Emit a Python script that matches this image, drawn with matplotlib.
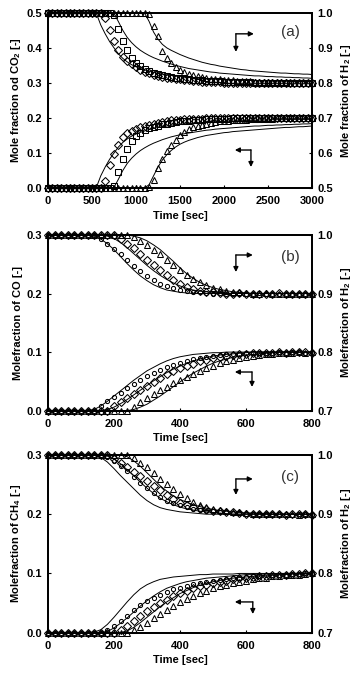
import numpy as np
import matplotlib
matplotlib.use('Agg')
import matplotlib.pyplot as plt

plt.rcParams['font.family'] = ['Liberation Sans', 'DejaVu Sans']
plt.rcParams['font.weight'] = 'bold'
plt.rcParams['mathtext.fontset'] = 'custom'
plt.rcParams['mathtext.rm'] = 'Liberation Sans:bold'
plt.rcParams['mathtext.default'] = 'rm'

# ---------------- panel (a): CO2 / H2, 0-3000 s, every 50 s ----------------
time_a = np.arange(0, 3001, 50)

co2_dia = [0, 0, 0, 0, 0, 0, 0, 0, 0, 0,
           0, 0, 0, 0.02, 0.065, 0.097, 0.124, 0.145, 0.156, 0.163,
           0.169, 0.174, 0.178, 0.181, 0.184, 0.187, 0.189, 0.191, 0.193, 0.194,
           0.195, 0.196, 0.197, 0.197, 0.198, 0.198, 0.199, 0.199, 0.2, 0.199,
           0.2, 0.201, 0.2, 0.199, 0.2, 0.201, 0.2, 0.2, 0.201, 0.2,
           0.2, 0.201, 0.2, 0.2, 0.201, 0.2, 0.199, 0.2, 0.201, 0.2,
           0.201]
co2_sq = [0, 0, 0, 0, 0, 0, 0, 0, 0, 0,
          0, 0, 0, 0, 0, 0.005, 0.045, 0.082, 0.11, 0.133,
          0.148, 0.158, 0.165, 0.17, 0.175, 0.178, 0.182, 0.184, 0.187, 0.188,
          0.19, 0.191, 0.192, 0.193, 0.194, 0.195, 0.196, 0.196, 0.197, 0.197,
          0.198, 0.198, 0.199, 0.199, 0.2, 0.199, 0.2, 0.2, 0.201, 0.2,
          0.2, 0.2, 0.201, 0.2, 0.2, 0.199, 0.2, 0.201, 0.2, 0.2,
          0.2]
co2_tri = [0, 0, 0, 0, 0, 0, 0, 0, 0, 0,
           0, 0, 0, 0, 0, 0, 0, 0, 0, 0,
           0, 0, 0, 0.003, 0.022, 0.057, 0.082, 0.105, 0.123, 0.138,
           0.151, 0.161, 0.168, 0.173, 0.177, 0.181, 0.184, 0.186, 0.188, 0.19,
           0.191, 0.192, 0.193, 0.194, 0.195, 0.195, 0.196, 0.196, 0.197, 0.197,
           0.198, 0.198, 0.199, 0.199, 0.2, 0.199, 0.2, 0.2, 0.2, 0.201,
           0.2]
co2_mod1 = [0, 0, 0, 0, 0, 0, 0, 0, 0, 0,
            0, 0.002, 0.035, 0.06, 0.082, 0.1, 0.117, 0.13, 0.14, 0.148,
            0.154, 0.159, 0.163, 0.167, 0.17, 0.173, 0.175, 0.177, 0.179, 0.181,
            0.182, 0.183, 0.184, 0.185, 0.186, 0.187, 0.188, 0.189, 0.189, 0.19,
            0.19, 0.191, 0.191, 0.192, 0.192, 0.193, 0.193, 0.193, 0.194, 0.194,
            0.194, 0.195, 0.195, 0.195, 0.195, 0.196, 0.196, 0.196, 0.196, 0.196,
            0.196]
co2_mod2 = [0, 0, 0, 0, 0, 0, 0, 0, 0, 0,
            0, 0, 0, 0, 0, 0.002, 0.025, 0.05, 0.07, 0.085,
            0.097, 0.107, 0.115, 0.122, 0.128, 0.133, 0.138, 0.142, 0.146, 0.149,
            0.152, 0.155, 0.157, 0.159, 0.161, 0.163, 0.165, 0.166, 0.168, 0.169,
            0.17, 0.171, 0.172, 0.173, 0.174, 0.175, 0.176, 0.177, 0.177, 0.178,
            0.179, 0.179, 0.18, 0.18, 0.181, 0.181, 0.182, 0.182, 0.183, 0.183,
            0.184]
co2_mod3 = [0, 0, 0, 0, 0, 0, 0, 0, 0, 0,
            0, 0, 0, 0, 0, 0, 0, 0, 0, 0,
            0, 0, 0, 0.01, 0.035, 0.06, 0.08, 0.095, 0.107, 0.117,
            0.125, 0.131, 0.136, 0.14, 0.144, 0.147, 0.15, 0.152, 0.154, 0.156,
            0.158, 0.159, 0.161, 0.162, 0.163, 0.164, 0.165, 0.166, 0.167, 0.168,
            0.169, 0.17, 0.171, 0.172, 0.173, 0.173, 0.174, 0.175, 0.175, 0.176,
            0.177]

h2a_dia = [1, 1, 1, 1, 1, 1, 1, 1, 1, 1,
           1, 1, 1, 0.985, 0.95, 0.92, 0.895, 0.873, 0.862, 0.853,
           0.845, 0.838, 0.832, 0.827, 0.823, 0.82, 0.817, 0.815, 0.813, 0.811,
           0.81, 0.808, 0.807, 0.806, 0.805, 0.804, 0.803, 0.803, 0.802, 0.802,
           0.801, 0.801, 0.8, 0.801, 0.8, 0.799, 0.8, 0.8, 0.799, 0.8,
           0.8, 0.799, 0.8, 0.8, 0.799, 0.8, 0.8, 0.799, 0.8, 0.8,
           0.799]
h2a_sq = [1, 1, 1, 1, 1, 1, 1, 1, 1, 1,
          1, 1, 1, 1, 1, 0.995, 0.955, 0.92, 0.893, 0.872,
          0.857, 0.847, 0.84, 0.834, 0.829, 0.825, 0.822, 0.819, 0.817, 0.815,
          0.813, 0.812, 0.81, 0.809, 0.808, 0.807, 0.806, 0.806, 0.805, 0.805,
          0.804, 0.804, 0.803, 0.803, 0.802, 0.802, 0.802, 0.801, 0.801, 0.801,
          0.801, 0.8, 0.801, 0.8, 0.8, 0.8, 0.801, 0.8, 0.8, 0.799,
          0.8]
h2a_tri = [1, 1, 1, 1, 1, 1, 1, 1, 1, 1,
           1, 1, 1, 1, 1, 1, 1, 1, 1, 1,
           1, 1, 1, 0.998, 0.962, 0.935, 0.892, 0.872, 0.857, 0.846,
           0.837, 0.831, 0.826, 0.822, 0.819, 0.816, 0.814, 0.812, 0.811, 0.81,
           0.809, 0.808, 0.807, 0.806, 0.806, 0.805, 0.805, 0.804, 0.804, 0.803,
           0.803, 0.803, 0.802, 0.802, 0.802, 0.801, 0.801, 0.801, 0.8, 0.801,
           0.8]
h2a_mod1 = [1, 1, 1, 1, 1, 1, 1, 1, 1, 1,
            1, 0.998, 0.965, 0.94, 0.918, 0.9, 0.883, 0.87, 0.86, 0.852,
            0.846, 0.841, 0.837, 0.833, 0.83, 0.827, 0.825, 0.823, 0.821, 0.82,
            0.818, 0.817, 0.816, 0.815, 0.814, 0.813, 0.812, 0.811, 0.811, 0.81,
            0.81, 0.809, 0.809, 0.808, 0.808, 0.807, 0.807, 0.807, 0.806, 0.806,
            0.806, 0.805, 0.805, 0.805, 0.805, 0.804, 0.804, 0.804, 0.804, 0.804,
            0.804]
h2a_mod2 = [1, 1, 1, 1, 1, 1, 1, 1, 1, 1,
            1, 1, 1, 1, 1, 0.998, 0.975, 0.95, 0.93, 0.915,
            0.903, 0.893, 0.885, 0.878, 0.872, 0.867, 0.862, 0.858, 0.854, 0.85,
            0.847, 0.844, 0.841, 0.839, 0.837, 0.835, 0.833, 0.831, 0.83, 0.828,
            0.827, 0.826, 0.825, 0.824, 0.823, 0.822, 0.821, 0.82, 0.82, 0.819,
            0.818, 0.818, 0.817, 0.817, 0.816, 0.816, 0.815, 0.815, 0.814, 0.814,
            0.813]
h2a_mod3 = [1, 1, 1, 1, 1, 1, 1, 1, 1, 1,
            1, 1, 1, 1, 1, 1, 1, 1, 1, 1,
            1, 1, 0.998, 0.975, 0.945, 0.925, 0.91, 0.9, 0.893, 0.887,
            0.881, 0.876, 0.871, 0.867, 0.863, 0.859, 0.856, 0.853, 0.851, 0.848,
            0.846, 0.844, 0.842, 0.84, 0.838, 0.837, 0.835, 0.834, 0.833, 0.832,
            0.831, 0.83, 0.829, 0.828, 0.828, 0.827, 0.826, 0.826, 0.825, 0.825,
            0.824]

# ---------------- panel (b): CO / H2, 0-800 s, every 20 s ----------------
time_bc = np.arange(0, 801, 20)

co_o = [0, 0, 0, 0, 0, 0, 0, 0, 0.008, 0.016,
        0.023, 0.03, 0.038, 0.046, 0.053, 0.06, 0.065, 0.07, 0.074, 0.078,
        0.082, 0.085, 0.088, 0.09, 0.092, 0.094, 0.095, 0.096, 0.097, 0.097,
        0.098, 0.098, 0.099, 0.098, 0.099, 0.1, 0.099, 0.1, 0.1, 0.099,
        0.1]
co_dia = [0, 0, 0, 0, 0, 0, 0, 0, 0, 0,
          0.008, 0.015, 0.022, 0.029, 0.035, 0.042, 0.049, 0.056, 0.062, 0.067,
          0.072, 0.076, 0.08, 0.084, 0.087, 0.09, 0.092, 0.094, 0.095, 0.096,
          0.097, 0.098, 0.098, 0.099, 0.099, 0.1, 0.099, 0.1, 0.1, 0.1,
          0.099]
co_tri = [0, 0, 0, 0, 0, 0, 0, 0, 0, 0,
          0, 0, 0, 0.007, 0.015, 0.022, 0.029, 0.035, 0.041, 0.047,
          0.052, 0.058, 0.063, 0.068, 0.073, 0.077, 0.081, 0.084, 0.087, 0.09,
          0.092, 0.094, 0.095, 0.096, 0.097, 0.098, 0.099, 0.099, 0.1, 0.099,
          0.1]
co_mod1 = [0, 0, 0, 0, 0, 0, 0, 0.002, 0.008, 0.016,
           0.025, 0.034, 0.043, 0.052, 0.06, 0.068, 0.074, 0.08, 0.085, 0.089,
           0.092, 0.094, 0.096, 0.097, 0.098, 0.099, 0.099, 0.1, 0.1, 0.1,
           0.1, 0.1, 0.1, 0.1, 0.1, 0.1, 0.1, 0.1, 0.1, 0.1,
           0.1]
co_mod2 = [0, 0, 0, 0, 0, 0, 0, 0, 0, 0.002,
           0.006, 0.012, 0.019, 0.027, 0.035, 0.043, 0.051, 0.058, 0.065, 0.071,
           0.076, 0.081, 0.085, 0.088, 0.091, 0.093, 0.095, 0.096, 0.097, 0.098,
           0.099, 0.1, 0.1, 0.1, 0.1, 0.1, 0.1, 0.1, 0.1, 0.1,
           0.1]
co_mod3 = [0, 0, 0, 0, 0, 0, 0, 0, 0, 0,
           0, 0, 0, 0.002, 0.006, 0.011, 0.018, 0.025, 0.033, 0.041,
           0.049, 0.057, 0.064, 0.07, 0.076, 0.081, 0.085, 0.088, 0.091, 0.093,
           0.095, 0.096, 0.097, 0.098, 0.099, 0.1, 0.1, 0.1, 0.1, 0.1,
           0.1]

h2b_o = [1, 1, 1, 1, 1, 1, 1, 1, 0.993, 0.985,
         0.976, 0.967, 0.957, 0.947, 0.938, 0.93, 0.923, 0.917, 0.913, 0.909,
         0.906, 0.904, 0.903, 0.902, 0.901, 0.9, 0.901, 0.9, 0.9, 0.899,
         0.9, 0.9, 0.901, 0.9, 0.899, 0.9, 0.9, 0.9, 0.899, 0.9,
         0.9]
h2b_dia = [1, 1, 1, 1, 1, 1, 1, 1, 1, 1,
           1, 0.993, 0.985, 0.977, 0.968, 0.958, 0.949, 0.94, 0.931, 0.923,
           0.916, 0.911, 0.907, 0.905, 0.903, 0.902, 0.901, 0.9, 0.9, 0.901,
           0.9, 0.9, 0.899, 0.9, 0.9, 0.901, 0.9, 0.9, 0.899, 0.9,
           0.9]
h2b_tri = [1, 1, 1, 1, 1, 1, 1, 1, 1, 1,
           1, 1, 1, 0.997, 0.99, 0.983, 0.975, 0.967, 0.958, 0.949,
           0.94, 0.932, 0.925, 0.919, 0.914, 0.91, 0.907, 0.905, 0.903, 0.902,
           0.901, 0.9, 0.9, 0.901, 0.9, 0.9, 0.899, 0.9, 0.9, 0.9,
           0.899]
h2b_mod1 = [1, 1, 1, 1, 1, 1, 1, 0.998, 0.993, 0.985,
            0.975, 0.963, 0.951, 0.94, 0.93, 0.922, 0.915, 0.91, 0.906, 0.904,
            0.902, 0.901, 0.9, 0.9, 0.9, 0.9, 0.9, 0.9, 0.9, 0.9,
            0.9, 0.9, 0.9, 0.9, 0.9, 0.9, 0.9, 0.9, 0.9, 0.9,
            0.9]
h2b_mod2 = [1, 1, 1, 1, 1, 1, 1, 1, 1, 0.998,
            0.994, 0.987, 0.978, 0.968, 0.958, 0.948, 0.939, 0.931, 0.924, 0.918,
            0.913, 0.909, 0.906, 0.904, 0.903, 0.902, 0.901, 0.9, 0.9, 0.9,
            0.9, 0.9, 0.9, 0.9, 0.9, 0.9, 0.9, 0.9, 0.9, 0.9,
            0.9]
h2b_mod3 = [1, 1, 1, 1, 1, 1, 1, 1, 1, 1,
            1, 1, 1, 0.998, 0.995, 0.99, 0.983, 0.975, 0.965, 0.955,
            0.944, 0.934, 0.926, 0.919, 0.914, 0.91, 0.907, 0.905, 0.903, 0.902,
            0.901, 0.9, 0.9, 0.9, 0.9, 0.9, 0.9, 0.9, 0.9, 0.9,
            0.9]

# ---------------- panel (c): CH4 / H2, 0-800 s, every 20 s ----------------
ch4_o = [0, 0, 0, 0, 0, 0, 0, 0, 0, 0.005,
         0.012, 0.02, 0.029, 0.038, 0.046, 0.053, 0.059, 0.064, 0.069, 0.073,
         0.076, 0.079, 0.082, 0.084, 0.086, 0.088, 0.089, 0.091, 0.092, 0.093,
         0.094, 0.095, 0.096, 0.097, 0.097, 0.098, 0.098, 0.099, 0.099, 0.1,
         0.1]
ch4_dia = [0, 0, 0, 0, 0, 0, 0, 0, 0, 0,
           0, 0.005, 0.012, 0.02, 0.028, 0.036, 0.043, 0.05, 0.056, 0.062,
           0.067, 0.071, 0.075, 0.078, 0.081, 0.084, 0.086, 0.088, 0.09, 0.092,
           0.093, 0.094, 0.095, 0.096, 0.097, 0.098, 0.098, 0.099, 0.099, 0.1,
           0.1]
ch4_tri = [0, 0, 0, 0, 0, 0, 0, 0, 0, 0,
           0, 0, 0, 0.004, 0.01, 0.017, 0.024, 0.031, 0.038, 0.045,
           0.051, 0.057, 0.062, 0.067, 0.071, 0.075, 0.078, 0.081, 0.084, 0.086,
           0.088, 0.09, 0.092, 0.093, 0.095, 0.096, 0.097, 0.098, 0.098, 0.099,
           0.1]
ch4_mod1 = [0, 0, 0, 0, 0, 0, 0, 0.001, 0.005, 0.014,
            0.026, 0.039, 0.052, 0.064, 0.074, 0.081, 0.086, 0.09, 0.092, 0.094,
            0.095, 0.096, 0.097, 0.098, 0.098, 0.099, 0.099, 0.099, 0.099, 0.1,
            0.1, 0.1, 0.1, 0.1, 0.1, 0.1, 0.1, 0.1, 0.1, 0.1,
            0.1]
ch4_mod2 = [0, 0, 0, 0, 0, 0, 0, 0, 0, 0.002,
            0.008, 0.016, 0.025, 0.035, 0.045, 0.054, 0.062, 0.069, 0.075, 0.079,
            0.083, 0.086, 0.088, 0.09, 0.092, 0.093, 0.094, 0.095, 0.096, 0.097,
            0.098, 0.098, 0.099, 0.099, 0.099, 0.1, 0.1, 0.1, 0.1, 0.1,
            0.1]
ch4_mod3 = [0, 0, 0, 0, 0, 0, 0, 0, 0, 0,
            0, 0, 0.003, 0.009, 0.017, 0.026, 0.035, 0.044, 0.052, 0.059,
            0.066, 0.071, 0.076, 0.08, 0.083, 0.086, 0.088, 0.09, 0.092, 0.093,
            0.094, 0.095, 0.096, 0.097, 0.097, 0.098, 0.098, 0.099, 0.099, 0.099,
            0.1]

h2c_o = [1, 1, 1, 1, 1, 1, 1, 1, 1, 0.996,
         0.99, 0.982, 0.973, 0.963, 0.953, 0.944, 0.936, 0.929, 0.923, 0.919,
         0.915, 0.912, 0.909, 0.907, 0.906, 0.905, 0.904, 0.903, 0.902, 0.902,
         0.901, 0.901, 0.9, 0.9, 0.901, 0.9, 0.9, 0.899, 0.9, 0.9,
         0.9]
h2c_dia = [1, 1, 1, 1, 1, 1, 1, 1, 1, 1,
           0.993, 0.986, 0.979, 0.972, 0.964, 0.956, 0.948, 0.94, 0.932, 0.925,
           0.919, 0.915, 0.912, 0.91, 0.908, 0.906, 0.905, 0.904, 0.903, 0.902,
           0.901, 0.9, 0.9, 0.901, 0.9, 0.9, 0.899, 0.9, 0.9, 0.9,
           0.899]
h2c_tri = [1, 1, 1, 1, 1, 1, 1, 1, 1, 1,
           1, 1, 1, 0.995, 0.987, 0.979, 0.97, 0.96, 0.951, 0.942,
           0.934, 0.927, 0.921, 0.916, 0.912, 0.909, 0.907, 0.905, 0.904, 0.903,
           0.902, 0.901, 0.9, 0.9, 0.9, 0.901, 0.9, 0.9, 0.899, 0.9,
           0.9]
h2c_mod1 = [1, 1, 1, 1, 1, 1, 1, 1, 0.996, 0.988,
            0.977, 0.965, 0.954, 0.943, 0.932, 0.923, 0.916, 0.911, 0.908, 0.906,
            0.904, 0.903, 0.902, 0.901, 0.9, 0.9, 0.9, 0.9, 0.9, 0.9,
            0.9, 0.9, 0.9, 0.9, 0.9, 0.9, 0.9, 0.9, 0.9, 0.9,
            0.9]
h2c_mod2 = [1, 1, 1, 1, 1, 1, 1, 1, 1, 0.998,
            0.993, 0.985, 0.975, 0.965, 0.954, 0.944, 0.935, 0.927, 0.921, 0.916,
            0.912, 0.909, 0.907, 0.905, 0.904, 0.903, 0.902, 0.901, 0.9, 0.9,
            0.9, 0.9, 0.9, 0.9, 0.9, 0.9, 0.9, 0.9, 0.9, 0.9,
            0.9]
h2c_mod3 = [1, 1, 1, 1, 1, 1, 1, 1, 1, 1,
            1, 1, 0.997, 0.99, 0.981, 0.97, 0.959, 0.948, 0.939, 0.931,
            0.925, 0.92, 0.916, 0.913, 0.91, 0.908, 0.906, 0.905, 0.904, 0.903,
            0.902, 0.902, 0.901, 0.901, 0.9, 0.9, 0.9, 0.9, 0.9, 0.9,
            0.9]

# ---------------- drawing ----------------
fig = plt.figure(figsize=(3.61, 6.74), dpi=100)

panels = [
    dict(rect=[0.133, 0.721, 0.731, 0.260], t=time_a, xmax=3000, xticks=[0, 500, 1000, 1500, 2000, 2500, 3000],
         ylim=(0, 0.5), ylim2=(0.5, 1.0), yticks=[0, 0.1, 0.2, 0.3, 0.4, 0.5],
         yticks2=[0.5, 0.6, 0.7, 0.8, 0.9, 1.0],
         low=[co2_dia, co2_sq, co2_tri], low_mod=[co2_mod1, co2_mod2, co2_mod3],
         up=[h2a_dia, h2a_sq, h2a_tri], up_mod=[h2a_mod1, h2a_mod2, h2a_mod3],
         marks=['D', 's', '^'], ms=[3.6, 3.8, 4.4],
         ylabel='Mole fraction od CO$_2$ [-]', ylabel2='Mole fraction of H$_2$ [-]', tag='(a)', tagy=0.89,
         arr_up=(0.712, 0.88, 0.78, 0.777), arr_lo=(0.769, 0.217, 0.708, 0.12)),
    dict(rect=[0.133, 0.3907, 0.731, 0.2607], t=time_bc, xmax=800, xticks=[0, 200, 400, 600, 800],
         ylim=(0, 0.3), ylim2=(0.7, 1.0), yticks=[0, 0.1, 0.2, 0.3], yticks2=[0.7, 0.8, 0.9, 1.0],
         low=[co_o, co_dia, co_tri], low_mod=[co_mod1, co_mod2, co_mod3],
         up=[h2b_o, h2b_dia, h2b_tri], up_mod=[h2b_mod1, h2b_mod2, h2b_mod3],
         marks=['o', 'D', '^'], ms=[3.0, 3.8, 4.4],
         ylabel='Molefraction of CO [-]', ylabel2='Molefraction of H$_2$ [-]', tag='(b)', tagy=0.875,
         arr_up=(0.712, 0.886, 0.776, 0.789), arr_lo=(0.773, 0.22, 0.708, 0.135)),
    dict(rect=[0.133, 0.0613, 0.731, 0.2637], t=time_bc, xmax=800, xticks=[0, 200, 400, 600, 800],
         ylim=(0, 0.3), ylim2=(0.7, 1.0), yticks=[0, 0.1, 0.2, 0.3], yticks2=[0.7, 0.8, 0.9, 1.0],
         low=[ch4_o, ch4_dia, ch4_tri], low_mod=[ch4_mod1, ch4_mod2, ch4_mod3],
         up=[h2c_o, h2c_dia, h2c_tri], up_mod=[h2c_mod1, h2c_mod2, h2c_mod3],
         marks=['o', 'D', '^'], ms=[3.0, 3.8, 4.4],
         ylabel='Molefraction of CH$_4$ [-]', ylabel2='Molefraction of H$_2$ [-]', tag='(c)', tagy=0.876,
         arr_up=(0.712, 0.865, 0.776, 0.775), arr_lo=(0.776, 0.173, 0.708, 0.105)),
]

arrow_kw = dict(arrowstyle='-|>', lw=1.0, color='k', mutation_scale=7, shrinkA=0, shrinkB=0)

def corner_arrow(ax, cx, cy, hx, vy):
	# L-shaped pointer: one head going sideways, one going down
	ax.annotate('', xy=(hx, cy), xytext=(cx, cy), xycoords='axes fraction', arrowprops=arrow_kw)
	ax.annotate('', xy=(cx, vy), xytext=(cx, cy), xycoords='axes fraction', arrowprops=arrow_kw)

for p in panels:
	ax = fig.add_axes(p['rect'])
	ax2 = ax.twinx()
	t = p['t']
	for vals, m, s in zip(p['low'], p['marks'], p['ms']):
		ax.plot(t, vals, ls='none', marker=m, ms=s, mfc='none', mec='k', mew=0.75, clip_on=False, zorder=3)
	for vals in p['low_mod']:
		ax.plot(t, vals, color='k', lw=0.7, zorder=2)
	for vals, m, s in zip(p['up'], p['marks'], p['ms']):
		ax2.plot(t, vals, ls='none', marker=m, ms=s, mfc='none', mec='k', mew=0.75, clip_on=False, zorder=3)
	for vals in p['up_mod']:
		ax2.plot(t, vals, color='k', lw=0.7, zorder=2)

	ax.set_xlim(0, p['xmax'])
	ax.set_ylim(*p['ylim'])
	ax2.set_ylim(*p['ylim2'])
	ax.set_xticks(p['xticks'])
	ax.set_yticks(p['yticks'])
	ax2.set_yticks(p['yticks2'])
	ax.set_yticklabels(['%.1f' % v for v in p['yticks']])
	ax2.set_yticklabels(['%.1f' % v for v in p['yticks2']])
	for a in (ax, ax2):
		a.tick_params(direction='in', length=2.5, width=0.8, labelsize=8, pad=4)
		for sp in a.spines.values():
			sp.set_linewidth(1.3)
	ax.tick_params(axis='x', pad=6)
	ax.set_xlabel('Time [sec]', fontsize=8, fontweight='bold', labelpad=3)
	ax.set_ylabel(p['ylabel'], fontsize=8, fontweight='bold', labelpad=3)
	ax2.set_ylabel(p['ylabel2'], fontsize=8, fontweight='bold', labelpad=4, rotation=90)
	ax.text(0.917, p['tagy'], p['tag'], transform=ax.transAxes, fontsize=11, fontweight='normal',
	        color='#333333', ha='center', va='center')
	cx, cy, hx, vy = p['arr_up']
	corner_arrow(ax, cx, cy, hx, vy)
	cx, cy, hx, vy = p['arr_lo']
	corner_arrow(ax, cx, cy, hx, vy)

plt.savefig('out.png', dpi=100)
